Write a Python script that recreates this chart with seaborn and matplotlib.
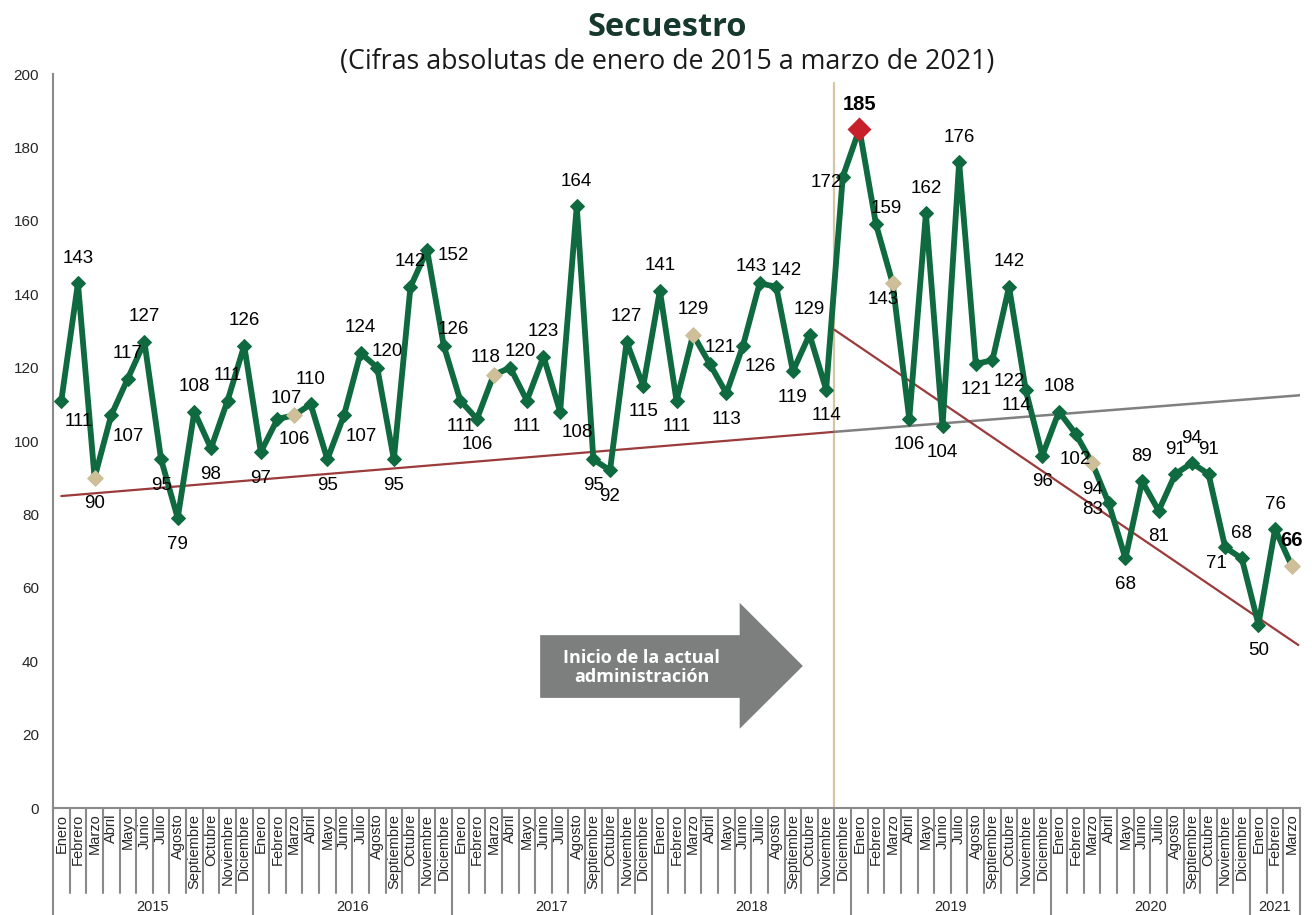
import numpy as np
import pandas as pd
import matplotlib.pyplot as plt
import seaborn as sns
from matplotlib.patches import Polygon

# Datos
meses = ["Enero", "Febrero", "Marzo", "Abril", "Mayo", "Junio", "Julio",
         "Agosto", "Septiembre", "Octubre", "Noviembre", "Diciembre"]
anios = ["2015", "2016", "2017", "2018", "2019", "2020", "2021"]
meses_por_anio = [12, 12, 12, 12, 12, 12, 3]

v2015 = [111, 143, 90, 107, 117, 127, 95, 79, 108, 98, 111, 126]
v2016 = [97, 106, 107, 110, 95, 107, 124, 120, 95, 142, 152, 126]
v2017 = [111, 106, 118, 120, 111, 123, 108, 164, 95, 92, 127, 115]
v2018 = [141, 111, 129, 121, 113, 126, 143, 142, 119, 129, 114, 172]
v2019 = [185, 159, 143, 106, 162, 104, 176, 121, 122, 142, 114, 96]
v2020 = [108, 102, 94, 83, 68, 89, 81, 91, 94, 91, 71, 68]
v2021 = [50, 76, 66]

# lineas de tendencia (indice de mes, valor)
tend1_x = [0, 46.5]
tend1_y = [85, 102.5]
proy_x = [46.5, 74.6]
proy_y = [102.5, 112.5]
tend2_x = [46.5, 74.4]
tend2_y = [130.3, 44.4]

# posicion de cada etiqueta (a=arriba, b=abajo, ...)
pos_etiquetas = """br a b br a a b b a b a a
b br al a b br a ar b a r ar
b b al ar b a br a b b a b
a b a ar b br al ar b a b l
a ar bl b a b a b br a bl b
a b b l b a b a a a bl a
b a a""".split()

offsets = {"a": (0, 25), "b": (0, -26), "ar": (10, 16), "al": (-8, 17),
           "br": (17, -21), "bl": (-9, -16), "l": (-16, -6), "r": (26, -5)}

valores = v2015 + v2016 + v2017 + v2018 + v2019 + v2020 + v2021
etiquetas_mes = []
anio_col = []
for a, n in zip(anios, meses_por_anio):
    etiquetas_mes += meses[:n]
    anio_col += [a] * n

df = pd.DataFrame({"idx": np.arange(len(valores)), "valor": valores,
                   "mes": etiquetas_mes, "anio": anio_col})

sns.set_style("white")
plt.rcParams["font.family"] = ["Liberation Sans", "DejaVu Sans"]

verde = "#106a3f"
gris = "#8a8a8a"

fig = plt.figure(figsize=(13.12, 9.15), dpi=100)
ax = fig.add_axes([53 / 1312, 107 / 915, 1247 / 1312, 734 / 915])

# tendencias
ax.plot(tend1_x, tend1_y, color="#9b3b3b", lw=1.6, zorder=2)
ax.plot(proy_x, proy_y, color="#808080", lw=1.8, zorder=2)
ax.plot(tend2_x, tend2_y, color="#9b3b3b", lw=1.6, zorder=2)

# linea vertical de inicio de administracion
ax.plot([46.5, 46.5], [0, 197.5], color="#d6c6a3", lw=1.6, zorder=1)

# serie principal
sns.lineplot(data=df, x="idx", y="valor", ax=ax, color=verde, lw=4.2,
             marker="D", markersize=7, markeredgecolor=verde, zorder=3)

marzos = df[df["mes"] == "Marzo"]
ax.scatter(marzos["idx"], marzos["valor"], marker="D", s=75,
           color="#cfbf98", zorder=4, linewidths=0)
maximo = df.loc[df["valor"].idxmax()]
ax.scatter([maximo["idx"]], [maximo["valor"]], marker="D", s=150,
           color="#c8202a", zorder=5, linewidths=0)

# etiquetas de datos
for i, (v, p) in enumerate(zip(valores, pos_etiquetas)):
    dx, dy = offsets[p]
    negrita = i == int(maximo["idx"]) or i == len(valores) - 1
    ax.annotate(str(v), (i, v), xytext=(dx, dy), textcoords="offset pixels",
                ha="center", va="center", fontsize=14.5 if negrita else 13.5,
                fontweight="bold" if negrita else "normal", color="black",
                zorder=6)

# flecha
flecha = Polygon([(28.8, 47.1), (40.8, 47.1), (40.8, 55.9), (44.6, 38.7),
                  (40.8, 21.6), (40.8, 30.0), (28.8, 30.0)],
                 closed=True, facecolor="#7c7f7e", edgecolor="none", zorder=2)
ax.add_patch(flecha)
ax.text(34.9, 38.3, "Inicio de la actual\nadministración", ha="center",
        va="center", color="white", fontsize=13, fontweight="bold",
        family=["Open Sans", "DejaVu Sans"], linespacing=1.1, zorder=3)

# ejes
ax.set_xlim(-0.5, len(valores) - 0.5)
ax.set_ylim(0, 200)
ax.set_yticks(range(0, 201, 20))
ax.set_xticks(df["idx"])
ax.set_xticklabels(etiquetas_mes, rotation=90, va="top", ha="center",
                   fontsize=10.5)
ax.tick_params(axis="x", length=0, pad=4)
ax.tick_params(axis="y", direction="out", length=3, width=1.2, color=gris,
               labelsize=11, pad=7)
ax.set_xlabel("")
ax.set_ylabel("")
for s in ["top", "right"]:
    ax.spines[s].set_visible(False)
for s in ["left", "bottom"]:
    ax.spines[s].set_color(gris)
    ax.spines[s].set_linewidth(1.5)

# separadores de meses y anios
tr = ax.get_xaxis_transform()
h_mes = 85 / 734
for k in range(len(valores) + 1):
    ax.plot([k - 0.5, k - 0.5], [0, -h_mes], transform=tr, clip_on=False,
            color=gris, lw=1.5)
limites = np.concatenate([[0], np.cumsum(meses_por_anio)]) - 0.5
for b in limites:
    ax.plot([b, b], [-h_mes, -0.2], transform=tr, clip_on=False,
            color=gris, lw=1.5)
for a, ini, fin in zip(anios, limites[:-1], limites[1:]):
    ax.text((ini + fin) / 2, -99 / 734, a, transform=tr, ha="center",
            va="center", fontsize=10.5)

# titulos
fig.text(667 / 1312, 1 - 28 / 915, "Secuestro", ha="center", va="center",
         fontsize=23.5, fontweight="bold", color="#17382d",
         family=["Open Sans", "DejaVu Sans"])
fig.text(667 / 1312, 1 - 62 / 915,
         "(Cifras absolutas de enero de 2015 a marzo de 2021)",
         ha="center", va="center", fontsize=19.3, color="#1a1a1a",
         family=["Open Sans", "DejaVu Sans"])

fig.savefig("out.png", dpi=100)
